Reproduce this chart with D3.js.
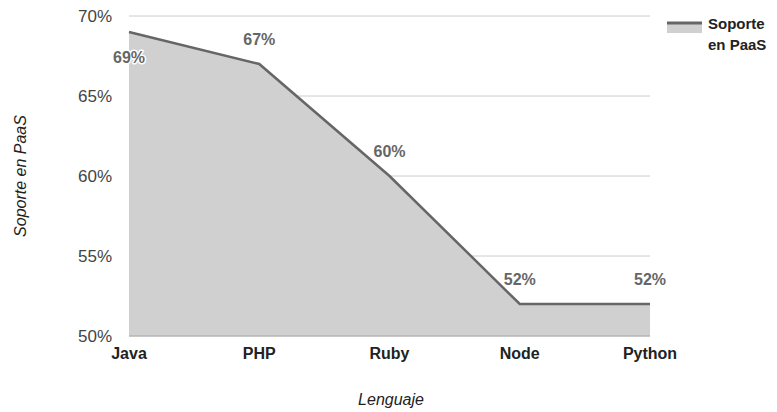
<!DOCTYPE html>
<html>
<head>
<meta charset="utf-8">
<script src="https://cdn.jsdelivr.net/npm/d3@7"></script>
<style>
  html, body { margin: 0; padding: 0; background: #fff; }
  svg { display: block; font-family: "Liberation Sans", Arial, sans-serif; }
</style>
</head>
<body>
<svg id="chart" width="777" height="412"></svg>
<script>
// Support of each language on PaaS platforms (percent)
const languages = ["Java", "PHP", "Ruby", "Node", "Python"];
const support = [69, 67, 60, 52, 52];
const yTicks = [50, 55, 60, 65, 70];
const seriesName = ["Soporte", "en PaaS"];
const xTitle = "Lenguaje";
const yTitle = "Soporte en PaaS";

(function () {
const svg = d3.select("#chart");
const plotLeft = 129, plotRight = 650, plotTop = 16, plotBottom = 336;

const x = d3.scalePoint().domain(languages).range([plotLeft, plotRight]);
const y = d3.scaleLinear().domain([50, 70]).range([plotBottom, plotTop]);

// horizontal gridlines
svg.append("g").selectAll("line").data(yTicks.filter(t => t !== 50)).join("line")
  .attr("x1", plotLeft).attr("x2", plotRight)
  .attr("y1", d => y(d)).attr("y2", d => y(d))
  .attr("stroke", "#cccccc").attr("stroke-width", 1);

const data = languages.map((l, i) => ({ l, v: support[i] }));

// filled area under the line
svg.append("path").datum(data)
  .attr("d", d3.area().x(d => x(d.l)).y0(y(50)).y1(d => y(d.v)))
  .attr("fill", "#d0d0d0");

// baseline
svg.append("line")
  .attr("x1", plotLeft).attr("x2", plotRight)
  .attr("y1", y(50)).attr("y2", y(50))
  .attr("stroke", "#b5b5b5").attr("stroke-width", 1.5);

// series line
svg.append("path").datum(data)
  .attr("d", d3.line().x(d => x(d.l)).y(d => y(d.v)))
  .attr("fill", "none").attr("stroke", "#666666").attr("stroke-width", 2.5)
  .attr("stroke-linejoin", "miter");

// y axis labels
svg.append("g").selectAll("text").data(yTicks).join("text")
  .attr("x", 112).attr("y", d => y(d)).attr("dy", "0.36em")
  .attr("text-anchor", "end").attr("font-size", 17).attr("fill", "#444")
  .text(d => d + "%");

// x axis labels
svg.append("g").selectAll("text").data(languages).join("text")
  .attr("x", d => x(d)).attr("y", 359)
  .attr("text-anchor", "middle").attr("font-size", 16).attr("font-weight", "bold")
  .attr("fill", "#222").text(d => d);

// value labels (first one sits below the point, others above)
svg.append("g").selectAll("text").data(data).join("text")
  .attr("x", d => x(d.l))
  .attr("y", (d, i) => i === 0 ? y(d.v) + 31 : y(d.v) - 19)
  .attr("text-anchor", "middle").attr("font-size", 16).attr("font-weight", "bold")
  .attr("fill", "#666").attr("stroke", "#fff").attr("stroke-width", 3)
  .attr("paint-order", "stroke").attr("stroke-linejoin", "round")
  .text(d => d.v + "%");

// axis titles
svg.append("text")
  .attr("transform", `translate(26,${(plotTop + plotBottom) / 2}) rotate(-90)`)
  .attr("text-anchor", "middle").attr("font-size", 16).attr("font-style", "italic")
  .attr("fill", "#222").text(yTitle);

svg.append("text")
  .attr("x", 391).attr("y", 405)
  .attr("text-anchor", "middle").attr("font-size", 16).attr("font-style", "italic")
  .attr("fill", "#222").text(xTitle);

// legend
const lg = svg.append("g");
lg.append("rect").attr("x", 667).attr("y", 23).attr("width", 35).attr("height", 10).attr("fill", "#d0d0d0");
lg.append("line").attr("x1", 667).attr("x2", 702).attr("y1", 23).attr("y2", 23)
  .attr("stroke", "#666").attr("stroke-width", 3);
lg.selectAll("text.lt").data(seriesName).join("text")
  .attr("class", "lt")
  .attr("x", 708).attr("y", (d, i) => 29 + i * 21)
  .attr("font-size", 15).attr("font-weight", "bold").attr("fill", "#222")
  .text(d => d);
})();
</script>
</body>
</html>
